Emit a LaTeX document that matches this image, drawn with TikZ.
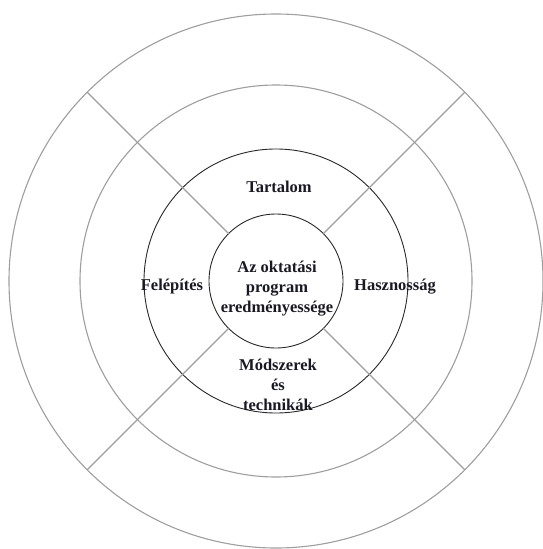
\documentclass[tikz,border=0pt]{standalone}
\usepackage{fontspec}
\setmainfont{Liberation Serif}
\begin{document}
\begin{tikzpicture}[x=1pt,y=-1pt,
  graycirc/.style={draw=lgray,line width=1.1pt},
  darkcirc/.style={draw=dkline,line width=0.9pt},
  spoke/.style={draw=lgray,line width=1.1pt},
  lbl/.style={anchor=base,inner sep=0pt,font=\fontsize{16.5}{19.7}\selectfont\bfseries,text=txtc}]
\definecolor{lgray}{RGB}{158,158,158}
\definecolor{dkline}{RGB}{40,40,40}
\definecolor{txtc}{RGB}{25,25,35}
\useasboundingbox (0,0) rectangle (543,549);
\coordinate (c) at (276,281);
% circles
\draw[graycirc] (c) circle[radius=267];
\draw[graycirc] (c) circle[radius=196];
\draw[darkcirc] (c) circle[radius=132];
\draw[darkcirc] (c) circle[radius=67];
% spokes
\foreach \a/\n in {45/ne,135/nw,225/sw,315/se}{
  \path (c) ++(\a:67) coordinate (i\n);
  \path (c) ++(\a:267) coordinate (o\n);
  \draw[spoke] (i\n) -- (o\n);
}
% labels
\node[lbl] (tart) at (279,192) {Tartalom};
\node[lbl] (fel) at (172,290) {Felépítés};
\node[lbl] (hasz) at (395,290) {Hasznosság};
\node[lbl] (c1) at (277,272.5) {Az oktatási};
\node[lbl] (c2) at (277,292.2) {program};
\node[lbl] (c3) at (277,312) {eredményessége};
\node[lbl] (m1) at (278,370.7) {Módszerek};
\node[lbl] (m2) at (278,390.5) {és};
\node[lbl] (m3) at (278,410.2) {technikák};
\end{tikzpicture}
\end{document}
